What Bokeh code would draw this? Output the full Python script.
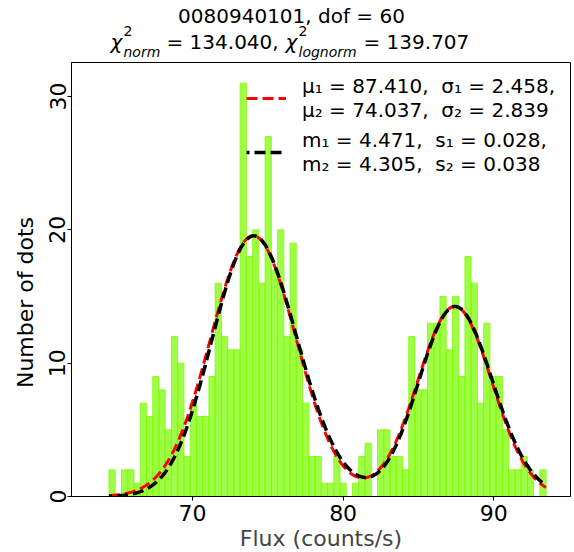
import numpy as np
from bokeh.plotting import figure
from bokeh.layouts import column, row
from bokeh.models import Range1d, Label, Legend, LegendItem, FixedTicker, ColumnDataSource
from bokeh.embed import file_html
from bokeh.resources import INLINE

# ---- data ----
obs_id = "0080940101"
dof = 60
chi2_norm = 134.040
chi2_lognorm = 139.707

flux_min = 64.45
flux_max = 93.48
counts = [2, 0, 2, 2, 1, 7, 6, 9, 8, 5,
          12, 10, 3, 7, 6, 6, 9, 16, 12, 11,
          11, 31, 18, 20, 16, 27, 17, 20, 12, 19,
          11, 7, 3, 3, 1, 1, 3, 1, 0, 1,
          3, 4, 0, 5, 5, 3, 3, 2, 12, 8,
          8, 13, 13, 15, 11, 15, 9, 18, 16, 7,
          13, 9, 9, 5, 2, 2, 3, 2, 0, 2]

mu = [87.410, 74.037]
sigma = [2.458, 2.839]
m_log = [4.471, 4.305]
s_log = [0.028, 0.038]
amp = [14.25, 19.55]   # peak heights of the fitted components

x_ticks = [70, 80, 90]
y_ticks = [0, 10, 20, 30]

# ---- derived ----
edges = np.linspace(flux_min, flux_max, len(counts) + 1)
hist_src = ColumnDataSource(dict(left=edges[:-1], right=edges[1:],
                                 top=counts, bottom=[0] * len(counts)))
xs = np.linspace(flux_min, flux_max, 500)
y_norm = sum(a * np.exp(-(xs - mu_) ** 2 / (2 * sg ** 2)) for a, mu_, sg in zip(amp, mu, sigma))
y_logn = sum(a * np.exp(-(np.log(xs) - mm) ** 2 / (2 * ss ** 2)) for a, mm, ss in zip(amp, m_log, s_log))

FONT = "DejaVu Sans"


def blank(w, h):
    f = figure(frame_width=w, frame_height=h, x_range=Range1d(0, w), y_range=Range1d(0, h),
               output_backend="svg", toolbar_location=None, min_border=0, title=None,
               x_axis_type=None, y_axis_type=None)
    f.outline_line_color = None
    f.grid.visible = False
    f.background_fill_color = "white"
    f.border_fill_color = "white"
    return f


def piece(fig, x, y, text, size, style="normal", align="left", angle=0.0):
    fig.add_layout(Label(x=x, y=y, text=text, angle=angle,
                         text_align=align, text_baseline="alphabetic", text_font=FONT,
                         text_font_size=size, text_font_style=style, text_color="black"))


# ---------------- header (title) ----------------
header = blank(574, 62)
piece(header, 291, 47, f"{obs_id}, dof = {dof}", "20px", align="center")
base, sup_y, sub_y = 21, 32, 11
piece(header, 110, base, "χ", "20px", "italic")
piece(header, 123, sup_y, "2", "14px")
piece(header, 123, sub_y, "norm", "14px", "italic")
piece(header, 166, base, f"= {chi2_norm:.3f},", "20px")
piece(header, 285, base, "χ", "20px", "italic")
piece(header, 298, sup_y, "2", "14px")
piece(header, 298, sub_y, "lognorm", "14px", "italic")
piece(header, 363, base, f"= {chi2_lognorm:.3f}", "20px")

# ---------------- side (y label) ----------------
side = blank(38, 490)
piece(side, 25, 490 - 240, "Number of dots", "22px", align="center", angle=np.pi / 2)

# ---------------- main plot ----------------
p = figure(frame_width=499, frame_height=434, output_backend="svg", toolbar_location=None,
           min_border_left=33, min_border_right=4, min_border_top=0, min_border_bottom=56,
           title=None, x_range=Range1d(61.96, 95.10), y_range=Range1d(0, 32.55))
p.background_fill_color = "white"
p.border_fill_color = "white"
p.outline_line_color = "black"
p.outline_line_width = 1
p.grid.visible = False

p.quad(left="left", right="right", top="top", bottom="bottom", source=hist_src,
       fill_color="#7CFC00", fill_alpha=0.72, line_color="#7CFC00", line_width=0.8)

r_norm = p.line(xs, y_norm, line_color="red", line_width=3, line_dash="11 5")
r_logn = p.line(xs, y_logn, line_color="black", line_width=3.5, line_dash="11 5",
                line_dash_offset=8)

for ax in (p.xaxis[0], p.yaxis[0]):
    ax.axis_line_color = "black"
    ax.major_tick_line_color = "black"
    ax.minor_tick_line_color = None
    ax.major_tick_out = 4
    ax.major_tick_in = 0
    ax.major_label_text_font = FONT
    ax.major_label_text_font_size = "22px"
    ax.major_label_text_color = "black"
p.xaxis.ticker = FixedTicker(ticks=x_ticks)
p.yaxis.ticker = FixedTicker(ticks=y_ticks)
p.yaxis.major_label_orientation = "vertical"
p.xaxis.major_label_standoff = 4
p.yaxis.major_label_standoff = 2

p.xaxis.axis_label = "Flux (counts/s)"
p.xaxis.axis_label_text_font = FONT
p.xaxis.axis_label_text_font_size = "22px"
p.xaxis.axis_label_text_font_style = "normal"
p.xaxis.axis_label_standoff = 2

legend = Legend(items=[
    LegendItem(label=f"μ₁ = {mu[0]:.3f},  σ₁ = {sigma[0]:.3f},\nμ₂ = {mu[1]:.3f},  σ₂ = {sigma[1]:.3f}",
               renderers=[r_norm]),
    LegendItem(label=f"m₁ = {m_log[0]:.3f},  s₁ = {s_log[0]:.3f},\nm₂ = {m_log[1]:.3f},  s₂ = {s_log[1]:.3f}",
               renderers=[r_logn]),
], location=(175, 320))
legend.background_fill_alpha = 0
legend.border_line_alpha = 0
legend.padding = 0
legend.margin = 0
legend.spacing = 6
legend.glyph_width = 40
legend.glyph_height = 36
legend.label_standoff = 16
legend.label_text_font = FONT
legend.label_text_font_size = "20px"
legend.label_text_line_height = 0.85
legend.label_text_color = "black"
p.add_layout(legend, "center")

layout = column(header, row(side, p, spacing=0), spacing=0)
open("out.html", "w").write(file_html(layout, INLINE))
